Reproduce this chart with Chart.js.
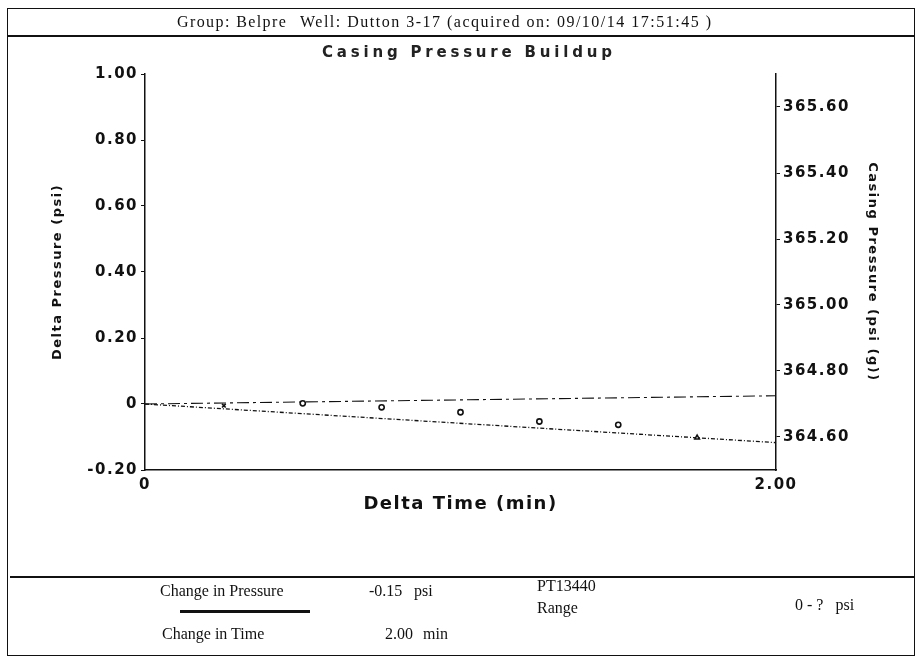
<!DOCTYPE html>
<html>
<head>
<meta charset="utf-8">
<script src="https://cdn.jsdelivr.net/npm/chart.js@4.4.1/dist/chart.umd.min.js"></script>
<style>
  html, body { margin: 0; padding: 0; background: #fff; }
  body { width: 921px; height: 661px; position: relative; overflow: hidden; }
  #chart { position: absolute; left: 0; top: 0; }
  .frame { position: absolute; border: 1.5px solid #111; }
  .hline { position: absolute; background: #111; }
  .txt { position: absolute; font-family: "Liberation Serif", serif; font-size: 16px; color: #111; white-space: nowrap; line-height: 1; }
  .title { position: absolute; font-family: "DejaVu Sans", sans-serif; font-weight: bold; font-size: 15px; color: #222; letter-spacing: 3.8px; white-space: nowrap; line-height: 1; }
</style>
</head>
<body>
<canvas id="chart" width="921" height="661"></canvas>

<div class="frame" style="left:7px; top:8px; width:906px; height:646px;"></div>
<div class="hline" style="left:7px; top:35px; width:908px; height:1.5px;"></div>
<div class="hline" style="left:10px; top:576px; width:905px; height:2px;"></div>

<div class="txt" style="left:177px; top:14px; letter-spacing:1.4px;">Group: Belpre</div>
<div class="txt" style="left:300px; top:14px; letter-spacing:1.5px;">Well: Dutton 3-17 (acquired on: 09/10/14 17:51:45 )</div>
<div class="title" style="left:322px; top:45px;">Casing Pressure Buildup</div>

<div class="txt" style="left:160px; top:583px;">Change in Pressure</div>
<div class="txt" style="left:369px; top:583px;">-0.15</div>
<div class="txt" style="left:414px; top:583px;">psi</div>
<div class="txt" style="left:537px; top:578px;">PT13440</div>
<div class="txt" style="left:537px; top:600px;">Range</div>
<div class="txt" style="left:795px; top:597px;">0 - ?&nbsp;&nbsp; psi</div>
<div class="hline" style="left:180px; top:610px; width:130px; height:3px;"></div>
<div class="txt" style="left:162px; top:626px;">Change in Time</div>
<div class="txt" style="left:385px; top:626px;">2.00</div>
<div class="txt" style="left:423px; top:626px;">min</div>

<script>
// readings at 0.25 min spacing
const pointTimes = [0.25, 0.5, 0.75, 1.0, 1.25, 1.5, 1.75];
const deltaPressure = [-0.005, 0.002, -0.010, -0.025, -0.053, -0.063, -0.102];
const pointStyles = ["crossRot", "circle", "circle", "circle", "circle", "circle", "triangle"];

// buildup trend line and reference line
const trendTimes = [0, 2.0];
const trendPressure = [0, -0.117];
const refTimes = [0, 2.0];
const refPressure = [0, 0.025];

const leftTicks = [-0.2, 0, 0.2, 0.4, 0.6, 0.8, 1.0];
const rightTicks = [364.6, 364.8, 365.0, 365.2, 365.4, 365.6];
const timeTicks = [0, 2.0];

const ink = "#111";
const tickFont = { family: "DejaVu Sans", weight: "bold", size: 15 };

const toXY = (xs, ys) => xs.map((x, i) => ({ x: x, y: ys[i] }));

const spacing = {
    id: "spacing",
    beforeDraw: (chart) => {
        chart.ctx.letterSpacing = "1.5px";
    },
};

const chart = new Chart(document.getElementById("chart"), {
    type: "line",
    data: {
        datasets: [
            {
                label: "Delta Pressure",
                data: toXY(pointTimes, deltaPressure),
                showLine: false,
                pointStyle: pointStyles,
                pointRadius: 2.6,
                pointBorderWidth: 1.6,
                borderColor: ink,
                backgroundColor: "#fff",
            },
            {
                label: "Trend",
                data: toXY(trendTimes, trendPressure),
                borderColor: ink,
                borderWidth: 1.3,
                borderDash: [4, 2, 1, 2],
                pointRadius: 0,
                fill: false,
            },
            {
                label: "Reference",
                data: toXY(refTimes, refPressure),
                borderColor: ink,
                borderWidth: 1.1,
                borderDash: [12, 4, 3, 4],
                pointRadius: 0,
                fill: false,
            },
        ],
    },
    options: {
        responsive: false,
        animation: false,
        layout: { padding: { left: 0, right: 0, top: 74, bottom: 146 } },
        plugins: { legend: { display: false }, tooltip: { enabled: false } },
        scales: {
            x: {
                type: "linear",
                min: 0,
                max: 2.0,
                afterBuildTicks: (s) => { s.ticks = timeTicks.map((v) => ({ value: v })); },
                afterFit: (s) => { s.height = 45; },
                grid: { display: false },
                border: { display: true, color: ink, width: 1.5 },
                ticks: {
                    color: ink,
                    font: { family: "DejaVu Sans", weight: "bold", size: 15, lineHeight: 1 },
                    padding: 0,
                    maxRotation: 0,
                    callback: (v) => (v === 0 ? "0" : v.toFixed(2)),
                },
                title: {
                    display: true,
                    text: "Delta Time (min)",
                    color: ink,
                    font: { family: "DejaVu Sans", weight: "bold", size: 18 },
                    padding: { top: 0, bottom: 0 },
                },
            },
            y: {
                position: "left",
                min: -0.2,
                max: 1.0,
                afterBuildTicks: (s) => { s.ticks = leftTicks.map((v) => ({ value: v })); },
                afterFit: (s) => { s.width = 145; },
                grid: { display: true, drawOnChartArea: false, drawTicks: true, tickLength: 4, color: ink },
                border: { display: true, color: ink, width: 1.5 },
                ticks: {
                    color: ink,
                    font: tickFont,
                    padding: 3,
                    callback: (v) => (Math.abs(v) < 1e-9 ? "0" : v.toFixed(2)),
                },
                title: {
                    display: true,
                    text: "Delta Pressure (psi)",
                    color: ink,
                    font: { family: "DejaVu Sans", weight: "bold", size: 13 },
                    padding: { top: 50, bottom: 0 },
                },
            },
            y2: {
                position: "right",
                min: 364.5,
                max: 365.7,
                afterBuildTicks: (s) => { s.ticks = rightTicks.map((v) => ({ value: v })); },
                afterFit: (s) => { s.width = 145; },
                grid: { display: true, drawOnChartArea: false, drawTicks: true, tickLength: 4, color: ink },
                border: { display: true, color: ink, width: 1.5 },
                ticks: {
                    color: ink,
                    font: tickFont,
                    padding: 3,
                    callback: (v) => v.toFixed(2),
                },
                title: {
                    display: true,
                    text: "Casing Pressure (psi (g))",
                    color: ink,
                    font: { family: "DejaVu Sans", weight: "bold", size: 13 },
                    padding: { top: 41, bottom: 0 },
                },
            },
        },
    },
    plugins: [spacing],
});
</script>
</body>
</html>
